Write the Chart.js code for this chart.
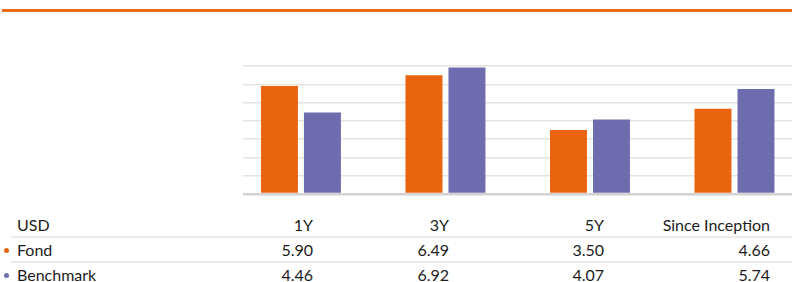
<!DOCTYPE html>
<html>
<head>
<meta charset="utf-8">
<script src="https://cdn.jsdelivr.net/npm/chart.js@4"></script>
<style>
    html, body { margin: 0; padding: 0; background: #fff; overflow: hidden; }
    body { width: 792px; height: 282px; position: relative; font-family: Lato, "Open Sans", sans-serif; }
    .topline { position: absolute; left: 2px; right: 0; top: 9px; height: 3px; background: #ea6a1b; }
    .chart-box { position: absolute; left: 0; top: 0; width: 792px; height: 200px; }
    table { position: absolute; left: 11px; top: 213px; width: 781px; border-collapse: collapse; table-layout: fixed; font-size: 16px; color: #1c1c1c; }
    td { height: 23px; line-height: 23px; padding: 0; white-space: nowrap; }
    tr.sep td { border-bottom: 2px solid #efe9e5; }
    td.num { text-align: right; }
    td.lbl { padding-left: 6px; position: relative; }
    .dot { position: absolute; left: -7px; top: 10px; width: 5px; height: 5px; border-radius: 50%; }
</style>
</head>
<body>
<div class="topline"></div>
<div class="chart-box"><canvas id="chart" width="792" height="200"></canvas></div>
<table id="tbl"></table>
<script>
    const categories = ["1Y", "3Y", "5Y", "Since Inception"];
    const fondValues = [5.90, 6.49, 3.50, 4.66];
    const benchmarkValues = [4.46, 6.92, 4.07, 5.74];
    const seriesNames = ["Fond", "Benchmark"];
    const currency = "USD";

    const ORANGE = "#ea640f";
    const PURPLE = "#6e6cae";

    const toPoints = (vals) => vals.map((v, i) => ({ x: i, y: v }));

    new Chart(document.getElementById("chart").getContext("2d"), {
        type: "bar",
        data: {
            datasets: [
                { label: seriesNames[0], data: toPoints(fondValues), backgroundColor: ORANGE },
                { label: seriesNames[1], data: toPoints(benchmarkValues), backgroundColor: PURPLE },
            ]
        },
        options: {
            responsive: false,
            animation: false,
            layout: { padding: { left: 243, right: 0, top: 66, bottom: 6 } },
            categoryPercentage: 0.595,
            barPercentage: 0.86,
            plugins: { legend: { display: false }, tooltip: { enabled: false } },
            scales: {
                x: {
                    type: "linear",
                    display: false,
                    offset: false,
                    min: -0.401,
                    max: 3.398,
                    afterBuildTicks: (s) => { s.ticks = categories.map((c, i) => ({ value: i })); },
                },
                y: {
                    min: 0,
                    max: 7,
                    ticks: { display: false, stepSize: 1 },
                    border: { display: false },
                    grid: {
                        drawTicks: false,
                        color: (c) => c.tick && c.tick.value === 0 ? "#d3d1d1" : "#e8e3df",
                        lineWidth: (c) => c.tick && c.tick.value === 0 ? 2.5 : 1.5,
                    },
                },
            },
        },
    });

    // data table under the chart
    const tbl = document.getElementById("tbl");
    const widths = [189, 113, 136, 155, 166, 22];
    let html = "<colgroup>" + widths.map(w => `<col style="width:${w}px">`).join("") + "</colgroup>";
    html += `<tr class="sep"><td class="lbl">${currency}</td>` + categories.map(c => `<td class="num">${c}</td>`).join("") + "<td></td></tr>";
    const rows = [[seriesNames[0], fondValues, ORANGE], [seriesNames[1], benchmarkValues, PURPLE]];
    rows.forEach(([name, vals, col], r) => {
        html += `<tr${r === 0 ? ' class="sep"' : ''}><td class="lbl"><span class="dot" style="background:${col}"></span>${name}</td>`
            + vals.map(v => `<td class="num">${v.toFixed(2)}</td>`).join("") + "<td></td></tr>";
    });
    tbl.innerHTML = html;
</script>
</body>
</html>
